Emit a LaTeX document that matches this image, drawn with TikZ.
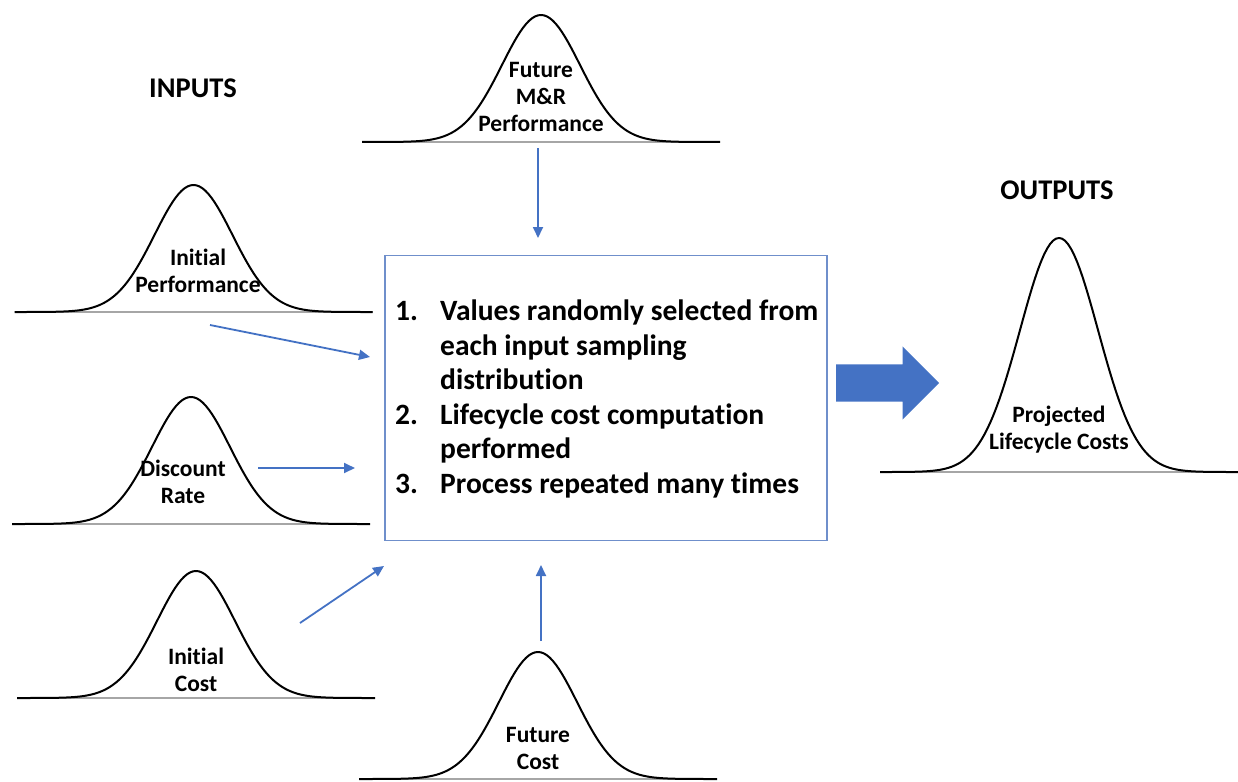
\documentclass[tikz,border=0pt]{standalone}
\usepackage{fontspec}
\setmainfont{Carlito}[Ligatures=NoCommon]
\usetikzlibrary{arrows.meta, positioning, shapes.arrows}
\definecolor{flowblue}{HTML}{4472C4}
\definecolor{boxblue}{HTML}{6F8FCB}
\definecolor{axisgray}{HTML}{A6A6A6}

\begin{document}
\begin{tikzpicture}[
  x=1pt, y=-1pt,
  font=\bfseries\fontsize{23.5}{27}\selectfont,
  lbl/.style={align=center, inner sep=0pt},
  head/.style={inner sep=0pt, font=\bfseries\fontsize{28.5}{30}\selectfont},
  proc/.style={draw=boxblue, line width=1.2pt, minimum width=442pt,
               minimum height=285pt, inner sep=0pt},
  steps/.style={align=left, inner sep=0pt,
                font=\bfseries\fontsize{29.5}{34.6}\selectfont},
  arr/.style={draw=flowblue, line width=1.8pt, -{Triangle[length=11pt, width=10pt]}},
  bigarr/.style={single arrow, fill=flowblue, draw=none, inner sep=18.5pt,
                 minimum height=103pt, single arrow head extend=18pt},
  bell/.pic={
    \draw[axisgray, line width=1.5pt] (-179,0) -- (179,0);
    \draw[line width=2pt, line join=round]
      plot[domain=-179:179, samples=121] (\x, {-#1*exp(-0.5*(\x/39)^2)});
  }]

  \useasboundingbox (0,0) rectangle (1238,781);

  % input curves
  \pic at (541,142) {bell=127};
  \pic at (193.5,312) {bell=127};
  \pic at (191,524) {bell=127};
  \pic at (196,698) {bell=127};
  \pic at (538,779) {bell=127};
  \node[lbl] (fmperf) at (541,97) {Future\\M\&R\\Performance};
  \node[lbl] (initperf) at (198,271) {Initial\\Performance};
  \node[lbl] (disc) at (183,482) {Discount\\Rate};
  \node[lbl] (initcost) at (196,670) {Initial\\Cost};
  \node[lbl] (futcost) at (538,748) {Future\\Cost};
  \node[head] (inputs) at (193,88) {INPUTS};

  % simulation box
  \node[proc] (sim) at (606,398) {};
  \node[steps, anchor=west] (steplist) at (395,399) {%
    \makebox[45pt][l]{1.}Values randomly selected from\\
    \hspace*{45pt}each input sampling\\
    \hspace*{45pt}distribution\\
    \makebox[45pt][l]{2.}Lifecycle cost computation\\
    \hspace*{45pt}performed\\
    \makebox[45pt][l]{3.}Process repeated many times};

  % output curve
  \pic at (1059,472) {bell=234};
  \node[lbl] (projcost) at (1059,430) {Projected\\Lifecycle Costs};
  \node[head] (outputs) at (1057,190) {OUTPUTS};
  \node[bigarr, anchor=tail] (result) at (836,383) {};

  % flows
  \coordinate (fm-out) at (538,148);
  \coordinate (fm-in) at (538,238);
  \coordinate (ip-out) at (210,325);
  \coordinate (ip-in) at (370,357);
  \coordinate (dr-out) at (258,468);
  \coordinate (dr-in) at (355,468);
  \coordinate (ic-out) at (300,623);
  \coordinate (ic-in) at (384,566);
  \coordinate (fc-out) at (541,641);
  \coordinate (fc-in) at (541,565);
  \draw[arr] (fm-out) -- (fm-in);
  \draw[arr] (ip-out) -- (ip-in);
  \draw[arr] (dr-out) -- (dr-in);
  \draw[arr] (ic-out) -- (ic-in);
  \draw[arr] (fc-out) -- (fc-in);
\end{tikzpicture}
\end{document}
